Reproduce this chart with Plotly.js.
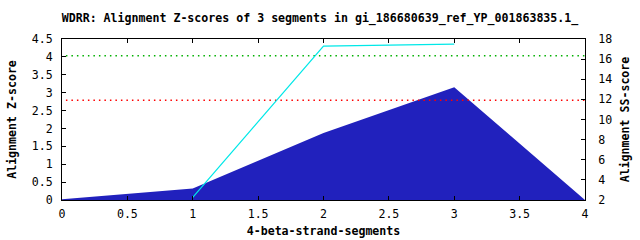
<!DOCTYPE html>
<html>
<head>
<meta charset="utf-8">
<script src="https://cdn.plot.ly/plotly-3.0.1.min.js"></script>
<style>html,body{margin:0;padding:0;background:#fff;}#chart{width:640px;height:240px;}</style>
</head>
<body>
<div id="chart"></div>
<script>
var segments = [0, 1, 2, 3, 4];
var zScores = [0.02, 0.32, 1.87, 3.15, 0];
var ssX = [1, 2, 3];
var ssScores = [2.25, 17.3, 17.5];
var thresholdX = [0.03, 4];
var greenThreshold = [4.03, 4.03];
var redThreshold = [2.79, 2.79];
var titleText = "WDRR: Alignment Z-scores of 3 segments in gi_186680639_ref_YP_001863835.1_";

var fontFam = "DejaVu Sans Mono, monospace";
var fs = 11.6;
var traces = [
  {x: segments, y: zScores, type: 'scatter', mode: 'lines', fill: 'tozeroy',
   fillcolor: '#2121bd', line: {color: '#2121bd', width: 0}, hoverinfo: 'skip', showlegend: false},
  {x: thresholdX, y: greenThreshold, type: 'scatter', mode: 'lines',
   line: {color: '#00b000', width: 1.5, dash: '1.5px,4px'}, showlegend: false},
  {x: thresholdX, y: redThreshold, type: 'scatter', mode: 'lines',
   line: {color: '#ff0000', width: 1.5, dash: '1.5px,4px'}, showlegend: false},
  {x: ssX, y: ssScores, type: 'scatter', mode: 'lines', yaxis: 'y2',
   line: {color: '#00e8e8', width: 1.2}, showlegend: false}
];
var layout = {
  width: 640, height: 240,
  margin: {l: 62, r: 55, t: 39, b: 40},
  paper_bgcolor: '#fff', plot_bgcolor: '#fff',
  font: {family: fontFam, size: fs, color: '#000'},
  title: {text: '<b>' + titleText + '</b>', font: {family: fontFam, size: fs, color: '#000'},
          x: 0.5, xref: 'container', xanchor: 'center', y: 0.925, yref: 'container', yanchor: 'middle'},
  xaxis: {range: [0, 4], dtick: 0.5, tick0: 0, ticks: 'inside', ticklen: 4, tickcolor: '#000',
          showline: true, linecolor: '#000', linewidth: 1, mirror: 'ticks', showgrid: false, zeroline: false,
          tickfont: {family: fontFam, size: fs}, ticklabelstandoff: 3,
          title: {text: '<b>4-beta-strand-segments</b>', font: {family: fontFam, size: fs}, standoff: 6}},
  yaxis: {range: [0, 4.5], dtick: 0.5, tick0: 0, ticks: 'inside', ticklen: 4, tickcolor: '#000',
          showline: true, linecolor: '#000', linewidth: 1, showgrid: false, zeroline: false,
          tickfont: {family: fontFam, size: fs}, ticklabelstandoff: 6,
          title: {text: '<b>Alignment Z-score</b>', font: {family: fontFam, size: fs}, standoff: 12}},
  yaxis2: {range: [2, 18], dtick: 2, tick0: 2, ticks: 'inside', ticklen: 4, tickcolor: '#000',
           overlaying: 'y', side: 'right', showline: true, linecolor: '#000', linewidth: 1,
           showgrid: false, zeroline: false, tickfont: {family: fontFam, size: fs}, ticklabelstandoff: 10,
           title: {text: '<b>Alignment SS-score</b>', font: {family: fontFam, size: fs}, standoff: 9}}
};
Plotly.newPlot('chart', traces, layout, {staticPlot: true, displayModeBar: false});
</script>
</body>
</html>
